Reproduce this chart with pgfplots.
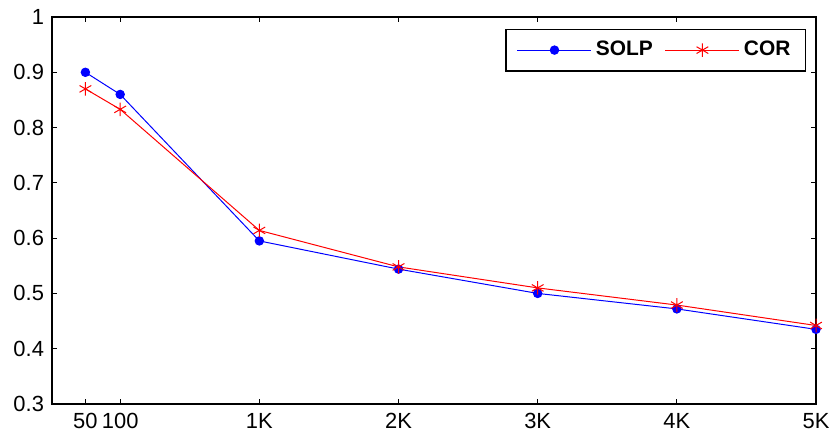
\documentclass[border=0pt]{standalone}
\usepackage{fontspec}
\setmainfont{Liberation Sans}
\usepackage{pgfplots}
\pgfplotsset{compat=1.18}
\begin{document}
\begin{tikzpicture}
\useasboundingbox (0,0) rectangle (416bp,217bp);
\begin{axis}[
  at={(26bp,15bp)}, anchor=south west,
  scale only axis, width=382bp, height=193.5bp,
  xmin=-0.49, xmax=5, ymin=0.3, ymax=1,
  xtick={-0.25,0,1,2,3,4,5},
  xticklabels={50,100,1K,2K,3K,4K,5K},
  ytick={0.3,0.4,0.5,0.6,0.7,0.8,0.9,1},
  yticklabels={0.3,0.4,0.5,0.6,0.7,0.8,0.9,1},
  /pgf/number format/assume math mode=true,
  tick align=inside, major tick length=2.5bp,
  tick style={black, line width=0.5pt},
  axis line style={line width=0.7pt},
  ticklabel style={font=\fontsize{11}{12}\selectfont},
  xticklabel style={yshift=-1bp},
  yticklabel style={xshift=-0.5bp},
  legend columns=2,
  legend style={at={(0.987,0.97)}, anchor=north east, draw=black, line width=0.7pt,
    font=\fontsize{10.5}{12}\selectfont\bfseries, inner xsep=5.5bp, inner ysep=4bp,
    /tikz/every even column/.append style={column sep=4bp}},
  legend image code/.code={\draw[mark repeat=2, mark phase=2] plot coordinates {(0bp,0bp) (18.5bp,0bp) (37bp,0bp)};},
]
\addplot[blue, line width=0.5pt, mark=*, mark size=2.1bp, mark options={fill=blue}] coordinates {
(-0.25,0.900) (0,0.860) (1,0.595) (2,0.544) (3,0.500) (4,0.472) (5,0.435)};
\addlegendentry{SOLP}
\addplot[red, line width=0.5pt, mark=asterisk, mark size=3.4bp, mark options={line width=0.5pt}] coordinates {
(-0.25,0.870) (0,0.833) (1,0.614) (2,0.548) (3,0.510) (4,0.479) (5,0.442)};
\addlegendentry{COR}
\end{axis}
\end{tikzpicture}
\end{document}
